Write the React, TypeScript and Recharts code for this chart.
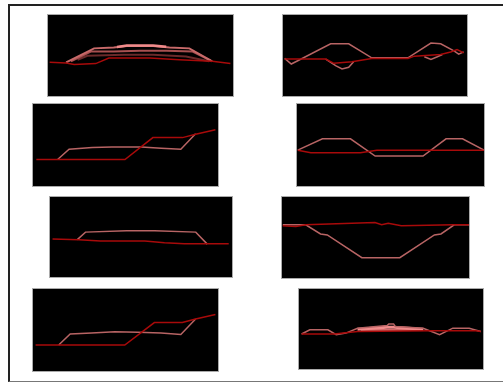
import React from "react";
import { LineChart, Line, XAxis, YAxis } from "recharts";

type Pt = [number, number];

// Panel 1
const p1Red: Pt[] = [[0.9,41.6],[9.8,40.8],[14.2,38.8],[25.8,40],[32.9,46.8],[55.1,46.8],[71,44.8],[88.8,42.8],[98.6,40]];
const p1A: Pt[] = [[9.8,41.6],[24.9,58.8],[35.5,60],[42.6,61.6],[56.8,61.6],[65.7,60],[76.4,58.8],[88.8,42.8]];
const p1B: Pt[] = [[12.4,42.8],[23.1,54.8],[35.5,54.8],[49.7,56],[63.9,56],[78.2,54.8],[87.9,43.6]];
const p1C: Pt[] = [[16,44.8],[21.3,49.6],[40.9,50.8],[56.8,50.8],[74.6,48.8],[87,42.8]];
const p1D: Pt[] = [[37.3,60.4],[42.6,62.4],[56.8,62.4],[63.9,60.8]];
// Panel 2
const p2Red: Pt[] = [[0.9,45.6],[23.2,45.6],[27.7,40.3],[37.5,42.3],[48.2,46.4],[67.9,46.4],[71.4,49.2],[85.7,51.2],[91.1,54.4],[94.6,57.3],[98.2,53.2]];
const p2Pink: Pt[] = [[0.9,46.4],[4.5,39.5],[8,43.5],[25.9,64.5],[35.7,64.5],[48.2,47.2],[67.9,47.2],[80.4,65.3],[85.7,64.5],[92.9,55.6],[95.5,51.6],[98.2,54.4]];
const p2LoopL: Pt[] = [[23.2,45.6],[28.6,37.5],[32.1,33.5],[35.7,35.5],[38.4,42.3]];
const p2LoopR: Pt[] = [[76.8,48.4],[80.4,45.2],[83.9,48.4],[86.6,51.2]];
// Panel 3
const p3Red: Pt[] = [[1.8,32.3],[49.7,32.3],[64.8,59],[80.8,59],[87.9,63],[98.6,68.5]];
const p3Pink: Pt[] = [[13.3,32.3],[19.5,44.9],[32,46.9],[42.6,47.6],[58.6,47.6],[69.3,46],[79.9,44.9],[87.9,63.8]];
// Panel 4
const p4Pink: Pt[] = [[0.4,43.7],[13.6,57.5],[28.6,57.5],[41.8,36.5],[67.4,36.5],[79.7,57.5],[88.5,57.5],[100,43.7]];
const p4Red: Pt[] = [[0.4,43.7],[7.4,40.5],[33.9,40.5],[42.7,43.7],[100,43.7]];
// Panel 5
const p5Red: Pt[] = [[1.4,47.6],[15.9,46.7],[27.7,45.1],[52.1,45.1],[62.9,42.7],[73.8,41.5],[98.2,41.5]];
const p5Pink: Pt[] = [[15,46.7],[19.5,56.1],[42.1,57.7],[57.5,57.7],[80.1,56.1],[86.4,41.1]];
// Panel 6
const p6Red: Pt[] = [[0.4,64.5],[7.4,63.7],[12.7,65.7],[49.7,68.5],[53.3,65.7],[56.8,67.7],[63.8,64.5],[92.1,65.7],[100,65.7]];
const p6Pink: Pt[] = [[0.4,65.7],[12.7,65.7],[20.6,54.4],[24.2,53.2],[42.7,25],[63,25],[81.5,53.2],[85,54.4],[92.1,65.7],[100,65.7]];
// Panel 7
const p7Red: Pt[] = [[1.4,31.7],[49.6,31.7],[65.6,59.1],[80.7,59.1],[87.9,63.5],[98.6,69]];
const p7Pink: Pt[] = [[13.9,31.7],[20.1,45.2],[31.7,46.4],[44.2,48],[56.7,47.2],[69.2,46.4],[79.9,44.4],[87.9,63.5]];
// Panel 8
const p8Red: Pt[] = [[1.4,43.7],[19.3,43.7],[31.8,46.9],[71.1,47.8],[96.1,47.8],[98.8,46.9]];
const p8Pink: Pt[] = [[1.4,43.7],[5.9,49],[15.7,49],[20.2,42.9],[25.5,44.9],[31.8,51],[47.9,54.3],[48.8,56.3],[51.4,56.3],[52.3,53.1],[67.5,51],[76.4,42.9],[83.6,51],[92.5,51],[98.8,46.9]];
const p8Light: Pt[] = [[31.8,49.8],[47.9,52.2],[51.4,52.2],[67.5,49.8]];
const p8Light2: Pt[] = [[33.6,48.6],[67.5,48.6]];

const toObj = (pts: Pt[]) => pts.map(([x, y]) => ({ x, y }));

type S = { pts: Pt[]; color: string; w?: number };
type P = { left: number; top: number; w: number; h: number; series: S[] };

const RED = "#a80a0a";
const PINK = "#b86464";
const DARK = "#6a2a2a";
const LIGHT = "#f08a8a";

const panels: P[] = [
  { left: 47, top: 14, w: 187, h: 83, series: [
    { pts: p1C, color: DARK, w: 2 }, { pts: p1B, color: "#a85050", w: 2 }, { pts: p1A, color: "#c86a6a", w: 2 }, { pts: p1D, color: LIGHT, w: 2.5 }, { pts: p1Red, color: RED } ] },
  { left: 282, top: 14, w: 186, h: 83, series: [
    { pts: p2Pink, color: PINK }, { pts: p2LoopL, color: PINK }, { pts: p2LoopR, color: PINK }, { pts: p2Red, color: RED } ] },
  { left: 32, top: 103, w: 187, h: 84, series: [ { pts: p3Pink, color: PINK }, { pts: p3Red, color: RED } ] },
  { left: 296, top: 103, w: 189, h: 84, series: [ { pts: p4Pink, color: PINK }, { pts: p4Red, color: RED } ] },
  { left: 49, top: 196, w: 184, h: 82, series: [ { pts: p5Pink, color: PINK }, { pts: p5Red, color: RED } ] },
  { left: 281, top: 196, w: 189, h: 83, series: [ { pts: p6Pink, color: PINK }, { pts: p6Red, color: RED } ] },
  { left: 32, top: 288, w: 187, h: 84, series: [ { pts: p7Pink, color: PINK }, { pts: p7Red, color: RED } ] },
  { left: 298, top: 288, w: 186, h: 82, series: [
    { pts: p8Light2, color: "#d06a6a", w: 2 }, { pts: p8Light, color: LIGHT, w: 3 }, { pts: p8Pink, color: PINK }, { pts: p8Red, color: RED } ] },
];

export default function App() {
  return (
    <div style={{ position: "absolute", left: 0, top: 0, width: 503, height: 382, overflow: "hidden", background: "#fff" }}>
      <div style={{ position: "absolute", left: 8, top: 4, width: 520, height: 375, borderLeft: "2px solid #222", borderTop: "2px solid #222", borderBottom: "1.5px solid #777" }} />
      {panels.map((p, i) => (
        <div key={i} style={{ position: "absolute", left: p.left, top: p.top, width: p.w - 2, height: p.h - 2, background: "#000", border: "1px solid #aaa" }}>
          <LineChart width={p.w - 2} height={p.h - 2} margin={{ top: 0, right: 0, bottom: 0, left: 0 }}>
            <XAxis type="number" dataKey="x" domain={[0, 100]} hide allowDataOverflow />
            <YAxis type="number" dataKey="y" domain={[0, 100]} hide width={0} allowDataOverflow />
            {p.series.map((s, j) => (
              <Line key={j} data={toObj(s.pts)} dataKey="y" type="linear" dot={false} activeDot={false}
                stroke={s.color} strokeWidth={s.w ?? 1.5} isAnimationActive={false} />
            ))}
          </LineChart>
        </div>
      ))}
    </div>
  );
}
